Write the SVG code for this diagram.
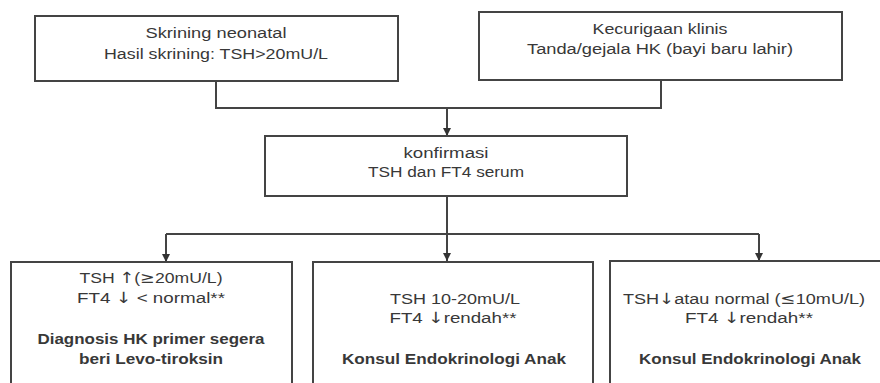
<svg xmlns="http://www.w3.org/2000/svg" width="880" height="383" viewBox="0 0 880 383">
<style>
.box{fill:#fff;stroke:#444;stroke-width:2}
.t{font-family:"Liberation Sans",Arial,sans-serif;font-size:15.5px;fill:#383838;text-anchor:middle}
.b{font-weight:bold}
.a{font-family:"DejaVu Sans",sans-serif}
.c{fill:none;stroke:#444;stroke-width:2}
</style>
<defs>
<marker id="arr" viewBox="0 0 10 10" refX="10" refY="5" markerWidth="4" markerHeight="4" orient="auto" markerUnits="strokeWidth">
<path d="M0,0 L10,5 L0,10 Z" fill="#333"/>
</marker>
</defs>
<rect width="880" height="383" fill="#fff"/>
<g id="connectors">
<path class="c" d="M216,81 V108 H661 V80"/>
<path class="c" d="M447,108 V136" marker-end="url(#arr)"/>
<path class="c" d="M447,196 V261" marker-end="url(#arr)"/>
<path class="c" d="M166,234 H759"/>
<path class="c" d="M166,234 V262" marker-end="url(#arr)"/>
<path class="c" d="M759,234 V261" marker-end="url(#arr)"/>
</g>
<g id="node-skrining">
<rect class="box" x="35" y="16" width="363" height="65"/>
<text class="t" x="216" y="38" textLength="141" lengthAdjust="spacingAndGlyphs">Skrining neonatal</text>
<text class="t" x="216" y="59" textLength="224" lengthAdjust="spacingAndGlyphs">Hasil skrining: TSH&gt;20mU/L</text>
</g>
<g id="node-kecurigaan">
<rect class="box" x="479" y="12" width="363" height="68"/>
<text class="t" x="660" y="34" textLength="135" lengthAdjust="spacingAndGlyphs">Kecurigaan klinis</text>
<text class="t" x="660" y="54" textLength="266" lengthAdjust="spacingAndGlyphs">Tanda/gejala HK (bayi baru lahir)</text>
</g>
<g id="node-konfirmasi">
<rect class="box" x="265" y="136" width="362" height="60"/>
<text class="t" x="446" y="158" textLength="85" lengthAdjust="spacingAndGlyphs">konfirmasi</text>
<text class="t" x="446" y="177" textLength="156" lengthAdjust="spacingAndGlyphs">TSH dan FT4 serum</text>
</g>
<g id="node-diagnosis">
<rect class="box" x="11" y="262" width="281" height="140"/>
<text class="t" x="151" y="283" textLength="143" lengthAdjust="spacingAndGlyphs">TSH <tspan class="a">↑</tspan>(<tspan class="a">≥</tspan>20mU/L)</text>
<text class="t" x="151" y="303" textLength="148" lengthAdjust="spacingAndGlyphs">FT4 <tspan class="a">↓</tspan> &lt; normal**</text>
<text class="t b" x="151" y="344" textLength="227" lengthAdjust="spacingAndGlyphs">Diagnosis HK primer segera</text>
<text class="t b" x="151" y="364" textLength="144" lengthAdjust="spacingAndGlyphs">beri Levo-tiroksin</text>
</g>
<g id="node-konsul1">
<rect class="box" x="313" y="262" width="280" height="140"/>
<text class="t" x="455" y="304" textLength="130" lengthAdjust="spacingAndGlyphs">TSH 10-20mU/L</text>
<text class="t" x="453" y="323" textLength="127" lengthAdjust="spacingAndGlyphs">FT4 <tspan class="a">↓</tspan>rendah**</text>
<text class="t b" x="454" y="364" textLength="224" lengthAdjust="spacingAndGlyphs">Konsul Endokrinologi Anak</text>
</g>
<g id="node-konsul2">
<rect class="box" x="610" y="261" width="280" height="140"/>
<text class="t" x="744" y="304" textLength="242" lengthAdjust="spacingAndGlyphs">TSH<tspan class="a">↓</tspan>atau normal (<tspan class="a">≤</tspan>10mU/L)</text>
<text class="t" x="749" y="323" textLength="128" lengthAdjust="spacingAndGlyphs">FT4 <tspan class="a">↓</tspan>rendah**</text>
<text class="t b" x="750" y="364" textLength="222" lengthAdjust="spacingAndGlyphs">Konsul Endokrinologi Anak</text>
</g>
</svg>
